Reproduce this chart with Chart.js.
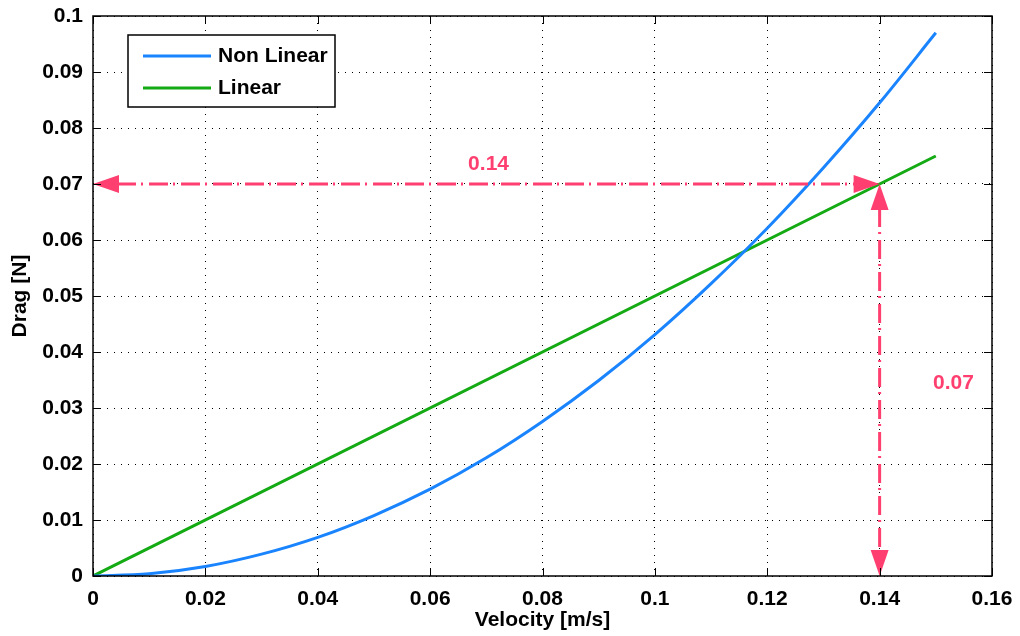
<!DOCTYPE html>
<html>
<head>
<meta charset="utf-8">
<script src="https://cdn.jsdelivr.net/npm/chart.js@4.4.0/dist/chart.umd.min.js"></script>
<style>
  html, body { margin: 0; padding: 0; background: #fff; }
  #wrap { width: 1020px; height: 636px; }
</style>
</head>
<body>
<div id="wrap"><canvas id="chart" width="1020" height="636"></canvas></div>
<script>
// data
const velocity = [0, 0.01, 0.02, 0.03, 0.04, 0.05, 0.06, 0.07, 0.08, 0.09, 0.10, 0.11, 0.12, 0.13, 0.14, 0.15];
const dragNonLinear = [0, 0.0004, 0.0017, 0.0039, 0.0069, 0.0108, 0.0155, 0.0211, 0.0276, 0.0349, 0.0431, 0.0522, 0.0621, 0.0729, 0.0845, 0.097];
const linearVelocity = [0, 0.15];
const dragLinear = [0, 0.075];

const xTicks = [0, 0.02, 0.04, 0.06, 0.08, 0.1, 0.12, 0.14, 0.16];
const yTicks = [0, 0.01, 0.02, 0.03, 0.04, 0.05, 0.06, 0.07, 0.08, 0.09, 0.1];

// annotation arrows: [x0, y0, x1, y1], label, label position
const arrowH = [0, 0.07, 0.14, 0.07];
const arrowV = [0.14, 0.07, 0.14, 0];
const labelH = { text: '0.14', x: 0.0704, y: 0.0735 };
const labelV = { text: '0.07', x: 0.1495, y: 0.0344 };

const PINK = '#ff3f6f';
const BLUE = '#1a84ff';
const GREEN = '#14aa14';
const FONT = '"Liberation Sans", Arial, sans-serif';
const FS = 21;

const toXY = (xs, ys) => xs.map((x, i) => ({ x, y: ys[i] }));

const boxPlugin = {
  id: 'box',
  afterDraw(chart) {
    const { ctx, chartArea: a, scales: { x, y } } = chart;
    ctx.save();
    ctx.strokeStyle = '#000';
    ctx.lineWidth = 1.5;
    ctx.strokeRect(a.left, a.top, a.right - a.left, a.bottom - a.top);
    ctx.lineWidth = 1;
    ctx.beginPath();
    const t = 8;
    xTicks.forEach(v => {
      const px = Math.round(x.getPixelForValue(v)) + 0.5;
      ctx.moveTo(px, a.bottom); ctx.lineTo(px, a.bottom - t);
      ctx.moveTo(px, a.top); ctx.lineTo(px, a.top + t);
    });
    yTicks.forEach(v => {
      const py = Math.round(y.getPixelForValue(v)) + 0.5;
      ctx.moveTo(a.left, py); ctx.lineTo(a.left + t, py);
      ctx.moveTo(a.right, py); ctx.lineTo(a.right - t, py);
    });
    ctx.stroke();
    ctx.restore();
  }
};

function arrowHead(ctx, fx, fy, tx, ty) {
  const len = 26, half = 9;
  const ang = Math.atan2(ty - fy, tx - fx);
  ctx.beginPath();
  ctx.moveTo(tx, ty);
  ctx.lineTo(tx - len * Math.cos(ang) + half * Math.sin(ang), ty - len * Math.sin(ang) - half * Math.cos(ang));
  ctx.lineTo(tx - len * Math.cos(ang) - half * Math.sin(ang), ty - len * Math.sin(ang) + half * Math.cos(ang));
  ctx.closePath();
  ctx.fill();
}

function drawDoubleArrow(chart, seg) {
  const { ctx, scales: { x, y } } = chart;
  const x0 = x.getPixelForValue(seg[0]), y0 = y.getPixelForValue(seg[1]);
  const x1 = x.getPixelForValue(seg[2]), y1 = y.getPixelForValue(seg[3]);
  const ang = Math.atan2(y1 - y0, x1 - x0);
  const inset = 24;
  ctx.save();
  ctx.strokeStyle = PINK;
  ctx.fillStyle = PINK;
  ctx.lineWidth = 3;
  ctx.setLineDash([19, 5, 2, 6]);
  ctx.beginPath();
  ctx.moveTo(x0 + inset * Math.cos(ang), y0 + inset * Math.sin(ang));
  ctx.lineTo(x1 - inset * Math.cos(ang), y1 - inset * Math.sin(ang));
  ctx.stroke();
  ctx.setLineDash([]);
  arrowHead(ctx, x1, y1, x0, y0);
  arrowHead(ctx, x0, y0, x1, y1);
  ctx.restore();
}

const annotationPlugin = {
  id: 'annot',
  afterDatasetsDraw(chart) {
    const { ctx, scales: { x, y } } = chart;
    drawDoubleArrow(chart, arrowH);
    drawDoubleArrow(chart, arrowV);
    ctx.save();
    ctx.fillStyle = PINK;
    ctx.font = 'bold ' + FS + 'px ' + FONT;
    ctx.textBaseline = 'middle';
    ctx.textAlign = 'center';
    ctx.fillText(labelH.text, x.getPixelForValue(labelH.x), y.getPixelForValue(labelH.y));
    ctx.textAlign = 'left';
    ctx.fillText(labelV.text, x.getPixelForValue(labelV.x), y.getPixelForValue(labelV.y));
    ctx.restore();
  }
};

const legendPlugin = {
  id: 'innerLegend',
  afterDraw(chart) {
    const { ctx, chartArea: a } = chart;
    const bx = a.left + 35, by = a.top + 19, bw = 207, bh = 72;
    ctx.save();
    ctx.fillStyle = '#fff';
    ctx.fillRect(bx, by, bw, bh);
    ctx.strokeStyle = '#000';
    ctx.lineWidth = 1.5;
    ctx.strokeRect(bx, by, bw, bh);
    ctx.font = 'bold ' + FS + 'px ' + FONT;
    ctx.textBaseline = 'middle';
    chart.data.datasets.forEach((ds, i) => {
      const ly = by + 21 + i * 32;
      ctx.strokeStyle = ds.borderColor;
      ctx.lineWidth = 3;
      ctx.beginPath();
      ctx.moveTo(bx + 15, ly); ctx.lineTo(bx + 83, ly);
      ctx.stroke();
      ctx.fillStyle = '#000';
      ctx.fillText(ds.label, bx + 90, ly);
    });
    ctx.restore();
  }
};

new Chart(document.getElementById('chart'), {
  type: 'line',
  data: {
    datasets: [
      {
        label: 'Non Linear',
        data: toXY(velocity, dragNonLinear),
        borderColor: BLUE,
        borderWidth: 3,
        pointRadius: 0,
        cubicInterpolationMode: 'monotone',
        fill: false
      },
      {
        label: 'Linear',
        data: toXY(linearVelocity, dragLinear),
        borderColor: GREEN,
        borderWidth: 3,
        pointRadius: 0,
        fill: false
      }
    ]
  },
  options: {
    responsive: false,
    animation: false,
    layout: { padding: { top: 16, right: 28, left: 0, bottom: 0 } },
    plugins: {
      legend: { display: false },
      tooltip: { enabled: false }
    },
    scales: {
      x: {
        type: 'linear',
        min: 0,
        max: 0.16,
        afterFit: s => { s.height = 60; s.paddingLeft = 0; s.paddingRight = 0; },
        afterBuildTicks: s => { s.ticks = xTicks.map(v => ({ value: v })); },
        ticks: {
          color: '#000',
          padding: 11,
          maxRotation: 0,
          font: { family: FONT, size: FS, weight: 'bold' },
          callback: v => String(+v.toFixed(2))
        },
        grid: { color: '#000', lineWidth: 1, drawTicks: false },
        border: { display: false, dash: [1, 6] },
        title: {
          display: true,
          text: 'Velocity [m/s]',
          color: '#000',
          padding: { top: 0, bottom: 3 },
          font: { family: FONT, size: FS, weight: 'bold' }
        }
      },
      y: {
        type: 'linear',
        min: 0,
        max: 0.1,
        afterFit: s => { s.width = 93; s.paddingTop = 0; s.paddingBottom = 0; },
        afterBuildTicks: s => { s.ticks = yTicks.map(v => ({ value: v })); },
        ticks: {
          color: '#000',
          padding: 10,
          font: { family: FONT, size: FS, weight: 'bold' },
          callback: v => String(+v.toFixed(2))
        },
        grid: { color: '#000', lineWidth: 1, drawTicks: false },
        border: { display: false, dash: [1, 6] },
        title: {
          display: true,
          text: 'Drag [N]',
          color: '#000',
          padding: { top: 8, bottom: 0 },
          font: { family: FONT, size: FS, weight: 'bold' }
        }
      }
    }
  },
  plugins: [boxPlugin, annotationPlugin, legendPlugin]
});
</script>
</body>
</html>
